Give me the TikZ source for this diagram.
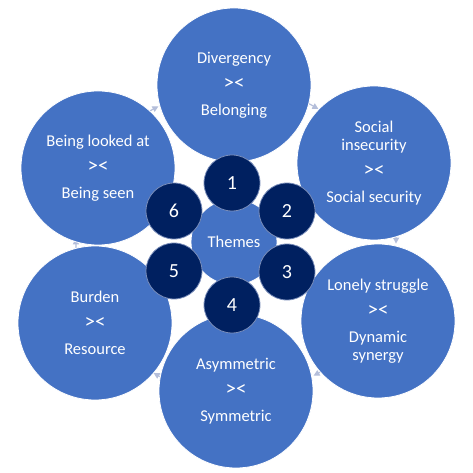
\documentclass[tikz,border=0pt]{standalone}
\usepackage{fontspec}
\setmainfont{Carlito}
\usetikzlibrary{arrows.meta}
\definecolor{themeblue}{RGB}{68,114,196}
\definecolor{darknavy}{RGB}{0,32,96}
\definecolor{navyedge}{RGB}{120,140,185}
\definecolor{cyclegrey}{RGB}{180,190,218}
\newcommand{\versus}{{\fontsize{21}{18}\selectfont ><}}

\begin{document}
\begin{tikzpicture}[x=1pt,y=1pt,>=Stealth,
        outer/.style={circle,fill=themeblue,draw=white,line width=0.8pt,minimum size=154pt,inner sep=0pt,
            text=white,align=center,font=\fontsize{16.5}{18}\selectfont},
        hub/.style={circle,fill=themeblue,draw=white,line width=0.8pt,minimum size=86pt,inner sep=0pt,
            text=white,font=\fontsize{16.5}{18}\selectfont},
        num/.style={circle,fill=darknavy,draw=navyedge,line width=0.8pt,minimum size=56pt,inner sep=0pt,
            text=white,font=\fontsize{20}{22}\selectfont},
        cyc/.style={draw=cyclegrey,line width=1.2pt,-{Triangle[length=6pt,width=6pt]}}]
            \useasboundingbox (0,0) rectangle (473,473);
            % cycle arrows behind the circles
            \foreach \g in {0,60,...,300}
                \draw [cyc] ([shift={(\g+14:160 and 154)}]236,232) arc [start angle=\g+14,end angle=\g-1,x radius=160,y radius=154];
            \node [outer] (div) at (234,388) {Divergency\\[8pt]\versus\\[8pt]Belonging};
            \node [outer] (soc) at (374,310) {Social\\insecurity\\[8pt]\versus\\[8pt]Social security};
            \node [outer] (lon) at (378,152) {Lonely struggle\\[8pt]\versus\\[8pt]Dynamic\\synergy};
            \node [outer] (asy) at (236,82) {Asymmetric\\[8pt]\versus\\[8pt]Symmetric};
            \node [outer] (bur) at (95,150) {Burden\\[8pt]\versus\\[8pt]Resource};
            \node [outer] (bei) at (98,305) {Being looked at\\[8pt]\versus\\[8pt]Being seen};
            \node [hub] (themes) at (234,231) {Themes};
            \node [num] (n1) at (232,290) {1};
            \node [num] (n2) at (287,262) {2};
            \node [num] (n3) at (287,201) {3};
            \node [num] (n4) at (232,168) {4};
            \node [num] (n5) at (174,202) {5};
            \node [num] (n6) at (174,262) {6};
\end{tikzpicture}
\end{document}
